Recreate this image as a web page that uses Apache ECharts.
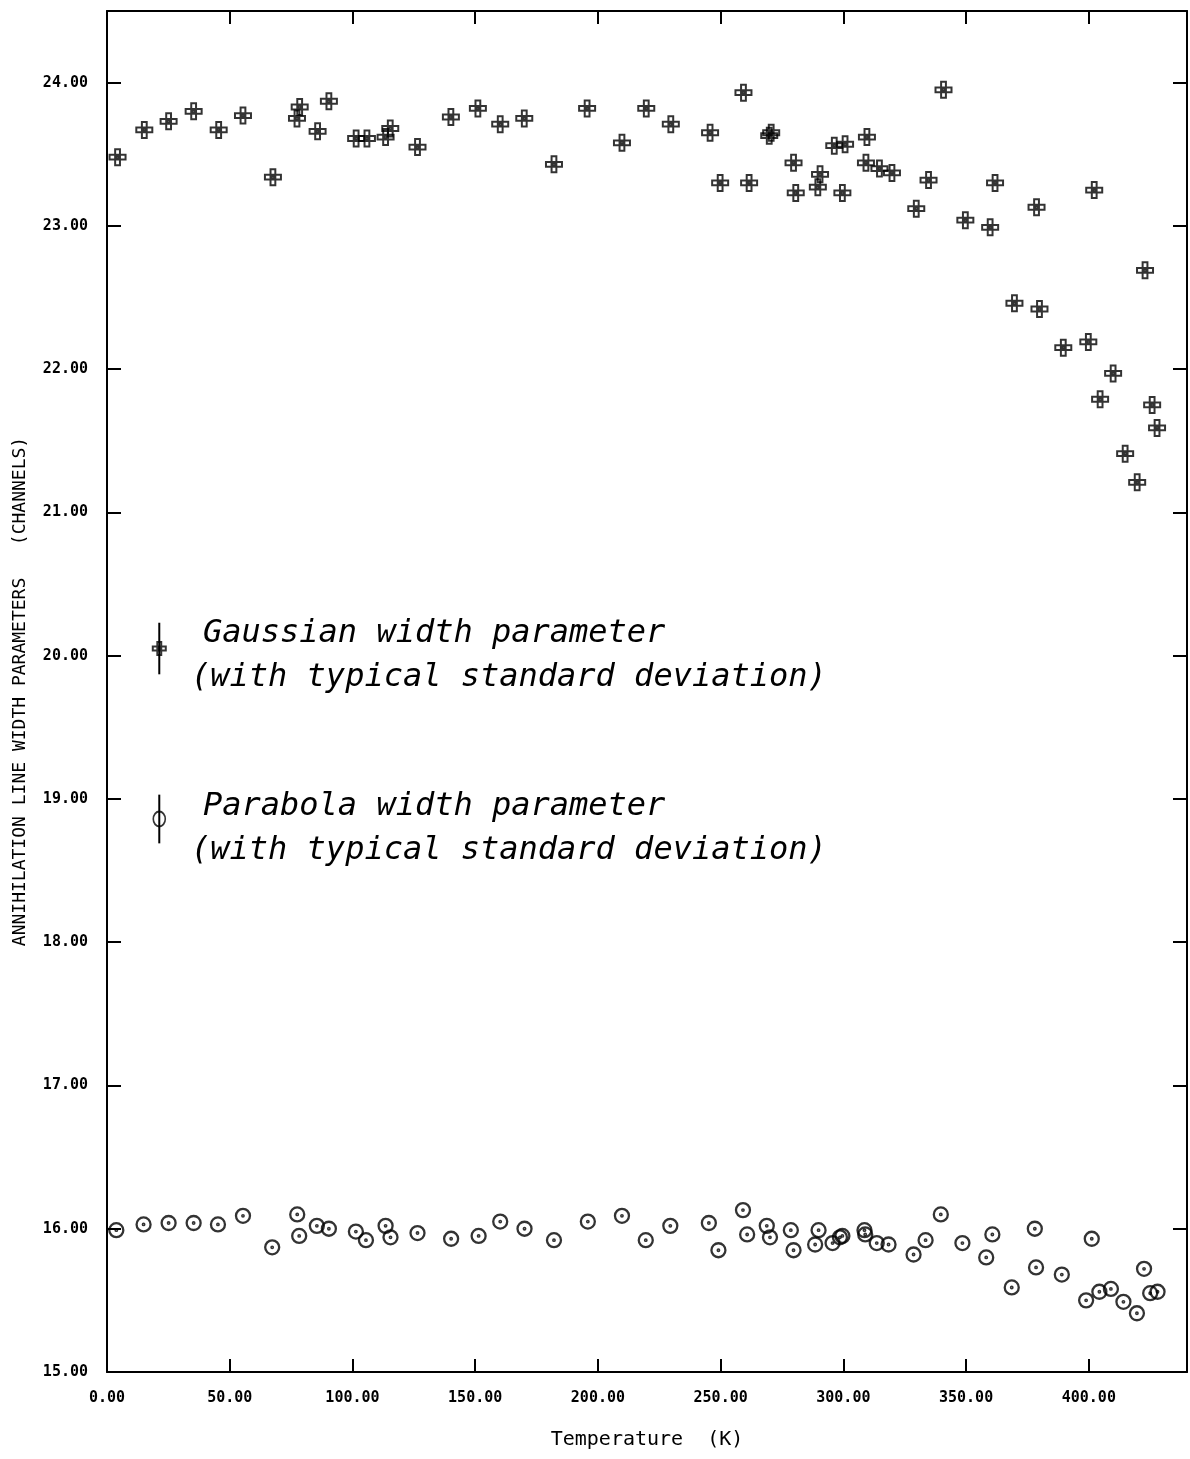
<!DOCTYPE html>
<html>
<head>
<meta charset="utf-8">
<script src="https://cdn.jsdelivr.net/npm/echarts@6/dist/echarts.min.js"></script>
<style>
  html, body { margin: 0; padding: 0; background: #fff; }
  #chart { width: 1190px; height: 1459px; }
</style>
</head>
<body>
<div id="chart"></div>
<script>
// Gaussian width parameter (channels) vs temperature (K)
const gaussT = [4.3, 15.2, 25.1, 35.3, 45.5, 55.4, 67.6, 77.4, 78.5, 85.8, 90.4, 101.5, 105.9, 113.5, 115.4, 126.5,
  140.1, 151.1, 160.2, 170.0, 182.1, 195.6, 209.8, 219.7, 229.7, 245.7, 249.8, 259.3, 261.6, 269.8, 270.6,
  279.7, 280.6, 289.6, 290.5, 296.3, 300.7, 299.6, 309.6, 309.2, 314.7, 319.8, 329.7, 334.7, 340.8, 349.7,
  359.8, 361.8, 369.7, 378.7, 379.9, 389.6, 399.8, 402.2, 404.6, 409.9, 414.8, 419.7, 422.9, 425.8, 427.8]
const gaussW = [23.48, 23.67, 23.73, 23.80, 23.67, 23.77, 23.34, 23.75, 23.83, 23.66, 23.87, 23.61, 23.61, 23.62, 23.68, 23.55,
  23.76, 23.82, 23.71, 23.75, 23.43, 23.82, 23.58, 23.82, 23.71, 23.65, 23.30, 23.93, 23.30, 23.63, 23.65,
  23.44, 23.23, 23.27, 23.36, 23.56, 23.57, 23.23, 23.62, 23.44, 23.40, 23.37, 23.12, 23.32, 23.95, 23.04,
  22.99, 23.30, 22.46, 23.13, 22.42, 22.15, 22.19, 23.25, 21.79, 21.97, 21.41, 21.21, 22.69, 21.75, 21.59]

// Parabola width parameter (channels) vs temperature (K)
const paraT = [3.8, 14.9, 25.1, 35.3, 45.2, 55.4, 67.3, 77.5, 78.3, 85.5, 90.4, 101.4, 105.5, 113.5, 115.5, 126.5,
  140.2, 151.4, 160.2, 170.1, 182.1, 195.9, 209.8, 219.5, 229.5, 245.2, 249.1, 259.1, 260.8, 268.8, 270.1,
  278.6, 279.7, 289.9, 288.5, 295.6, 298.6, 299.6, 308.6, 308.9, 313.6, 318.4, 328.6, 333.5, 339.7, 348.5,
  358.2, 360.7, 368.6, 378.0, 378.5, 389.0, 401.2, 398.9, 404.3, 409.0, 414.1, 419.6, 422.5, 425.0, 428.0]
const paraW = [15.99, 16.03, 16.04, 16.04, 16.03, 16.09, 15.87, 16.10, 15.95, 16.02, 16.00, 15.98, 15.92, 16.02, 15.94, 15.97,
  15.93, 15.95, 16.05, 16.00, 15.92, 16.05, 16.09, 15.92, 16.02, 16.04, 15.85, 16.13, 15.96, 16.02, 15.94,
  15.99, 15.85, 15.99, 15.89, 15.90, 15.94, 15.95, 15.99, 15.96, 15.90, 15.89, 15.82, 15.92, 16.10, 15.90,
  15.80, 15.96, 15.59, 16.00, 15.73, 15.68, 15.93, 15.50, 15.56, 15.58, 15.49, 15.41, 15.72, 15.55, 15.56]

// legend samples: [T, value, typical standard deviation]
const gaussSample = [21.3, 20.05, 0.18]
const paraSample = [21.3, 18.86, 0.17]

const legendLines = [
  'Gaussian width parameter',
  '(with typical standard deviation)',
  'Parabola width parameter',
  '(with typical standard deviation)'
]

const gaussSymbol = 'path://M7,0 H13 V7 H20 V13 H13 V20 H7 V13 H0 V7 H7 Z M7,7 H13 V13 H7 Z M8.5,8.5 H11.5 V11.5 H8.5 Z'
const paraSymbol = 'path://M10,0 A10,10 0 1,1 10,20 A10,10 0 1,1 10,0 Z M10,8.9 A1.1,1.1 0 1,1 10,11.1 A1.1,1.1 0 1,1 10,8.9 Z'
const ringSymbol = 'path://M10,0 A10,10 0 1,1 10,20 A10,10 0 1,1 10,0 Z'

const mono = '"DejaVu Sans Mono", monospace'
const zip = (a, b) => a.map((v, i) => [v, b[i]])

const myEcharts = echarts.init(document.getElementById('chart'))

const outline = { color: 'rgba(0,0,0,0)', borderColor: '#000', borderWidth: 2 }
const frameLine = { onZero: false, lineStyle: { color: '#000', width: 2 } }
const frameTick = len => ({ inside: true, length: len, lineStyle: { color: '#000', width: 2 } })

const legendFont = 'italic 32px ' + mono

myEcharts.setOption({
  animation: false,
  backgroundColor: '#fff',
  grid: { left: 107, right: 3, top: 11, bottom: 87 },
  xAxis: [{
    type: 'value', min: 0, max: 440, interval: 50,
    name: 'Temperature  (K)', nameLocation: 'middle', nameGap: 58,
    nameTextStyle: { fontFamily: mono, fontSize: 20, color: '#000' },
    axisLine: frameLine,
    axisTick: frameTick(13),
    axisLabel: { showMaxLabel: false, margin: 19, fontFamily: mono, fontSize: 15, fontWeight: 'bold', color: '#000',
      formatter: v => v.toFixed(2) },
    splitLine: { show: false }
  }, {
    type: 'value', position: 'top', min: 0, max: 440, interval: 50,
    axisLine: frameLine,
    axisTick: frameTick(13),
    axisLabel: { show: false },
    splitLine: { show: false }
  }],
  yAxis: [{
    type: 'value', min: 15, max: 24.5, interval: 1,
    name: 'ANNIHILATION LINE WIDTH PARAMETERS   (CHANNELS)', nameLocation: 'middle', nameGap: 78,
    nameTextStyle: { fontFamily: mono, fontSize: 18, color: '#000' },
    axisLine: frameLine,
    axisTick: frameTick(14),
    axisLabel: { showMaxLabel: false, margin: 19, fontFamily: mono, fontSize: 15, fontWeight: 'bold', color: '#000',
      formatter: v => v.toFixed(2) },
    splitLine: { show: false }
  }, {
    type: 'value', position: 'right', min: 15, max: 24.5, interval: 1,
    axisLine: frameLine,
    axisTick: frameTick(14),
    axisLabel: { show: false },
    splitLine: { show: false }
  }],
  series: [{
    name: 'Gaussian', type: 'scatter', data: zip(gaussT, gaussW),
    symbol: gaussSymbol, symbolSize: 16, itemStyle: outline
  }, {
    name: 'Parabola', type: 'scatter', data: zip(paraT, paraW),
    symbol: paraSymbol, symbolSize: 14, itemStyle: { ...outline, borderWidth: 2.3 }
  }, {
    name: 'errorbars', type: 'custom', data: [gaussSample, paraSample],
    encode: { x: 0, y: 1 },
    renderItem(params, api) {
      const x = api.value(0), y = api.value(1), e = api.value(2)
      const p1 = api.coord([x, y - e]), p2 = api.coord([x, y + e])
      return { type: 'line', shape: { x1: p1[0], y1: p1[1], x2: p2[0], y2: p2[1] },
        style: { stroke: '#000', lineWidth: 2 } }
    }
  }, {
    name: 'legendGauss', type: 'scatter', data: [gaussSample.slice(0, 2)],
    symbol: gaussSymbol, symbolSize: 13, itemStyle: outline
  }, {
    name: 'legendPara', type: 'scatter', data: [paraSample.slice(0, 2)],
    symbol: ringSymbol, symbolSize: [12, 15], itemStyle: { ...outline, borderWidth: 1.8 }
  }],
  graphic: [
    { type: 'text', x: 203, y: 634, style: { text: legendLines[0], font: legendFont, fill: '#000', align: 'left', verticalAlign: 'middle' } },
    { type: 'text', x: 191, y: 678, style: { text: legendLines[1], font: legendFont, fill: '#000', align: 'left', verticalAlign: 'middle' } },
    { type: 'text', x: 203, y: 807, style: { text: legendLines[2], font: legendFont, fill: '#000', align: 'left', verticalAlign: 'middle' } },
    { type: 'text', x: 191, y: 851, style: { text: legendLines[3], font: legendFont, fill: '#000', align: 'left', verticalAlign: 'middle' } }
  ]
})
</script>
</body>
</html>
